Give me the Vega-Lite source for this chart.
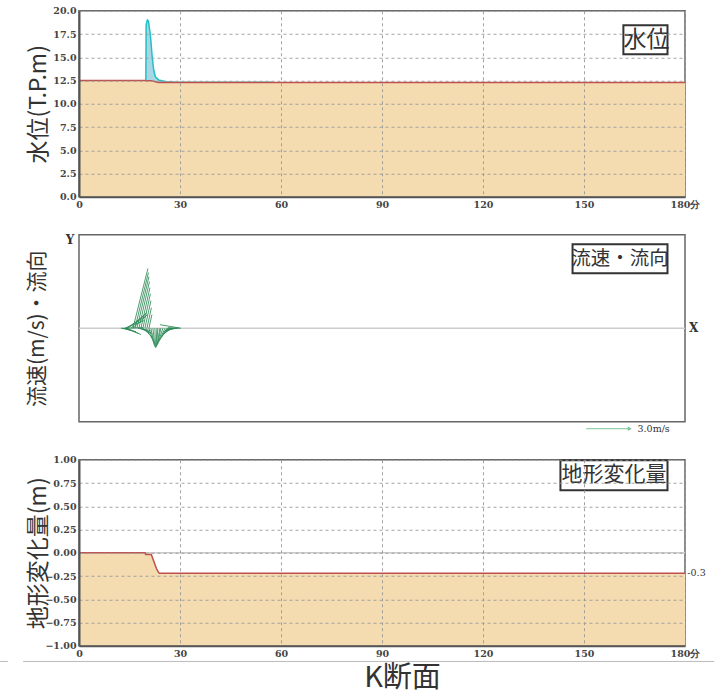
{
  "$schema": "https://vega.github.io/schema/vega-lite/v6.json",
  "background": "white",
  "padding": {"left": -2, "top": 4.75, "right": 4, "bottom": 4},
  "datasets": {
    "terrain": [
      {"t": 0, "chg": 0, "bed": 12.5},
      {"t": 19.6, "chg": 0, "bed": 12.5},
      {"t": 19.8, "chg": -0.02, "bed": 12.48},
      {"t": 21.5, "chg": -0.02, "bed": 12.48},
      {"t": 21.8, "chg": -0.05, "bed": 12.45},
      {"t": 22.4, "chg": -0.11, "bed": 12.39},
      {"t": 23.0, "chg": -0.17, "bed": 12.33},
      {"t": 23.6, "chg": -0.21, "bed": 12.29},
      {"t": 23.9, "chg": -0.22, "bed": 12.28},
      {"t": 180, "chg": -0.22, "bed": 12.28}
    ],
    "water": [
      {"t": 19.85, "wl": 12.48, "bed": 12.48},
      {"t": 19.95, "wl": 18.5, "bed": 12.48},
      {"t": 20.3, "wl": 19.0, "bed": 12.48},
      {"t": 20.6, "wl": 18.9, "bed": 12.48},
      {"t": 21.2, "wl": 17.4, "bed": 12.48},
      {"t": 21.7, "wl": 15.2, "bed": 12.46},
      {"t": 22.2, "wl": 13.6, "bed": 12.41},
      {"t": 22.7, "wl": 12.9, "bed": 12.36},
      {"t": 23.7, "wl": 12.55, "bed": 12.285},
      {"t": 25.8, "wl": 12.37, "bed": 12.28},
      {"t": 28.7, "wl": 12.32, "bed": 12.28},
      {"t": 40, "wl": 12.32, "bed": 12.28},
      {"t": 57.5, "wl": 12.32, "bed": 12.28}
    ],
    "vec": [
      {"t": 14.54, "te": 12.46, "ve": -0.03},
      {"t": 15.73, "te": 12.76, "ve": -0.15},
      {"t": 16.91, "te": 13.35, "ve": -0.22},
      {"t": 17.80, "te": 13.65, "ve": -0.35},
      {"t": 18.40, "te": 14.24, "ve": -0.41},
      {"t": 18.99, "te": 13.35, "ve": 0.04},
      {"t": 19.29, "te": 13.65, "ve": 0.49},
      {"t": 19.58, "te": 13.94, "ve": 0.75},
      {"t": 19.88, "te": 14.54, "ve": 0.94},
      {"t": 20.18, "te": 15.43, "ve": 1.01},
      {"t": 20.32, "te": 16.02, "ve": 0.88},
      {"t": 20.47, "te": 16.02, "ve": 3.85},
      {"t": 20.62, "te": 16.62, "ve": 3.59},
      {"t": 20.77, "te": 17.21, "ve": 3.33},
      {"t": 20.92, "te": 17.80, "ve": 3.01},
      {"t": 21.07, "te": 18.40, "ve": 2.62},
      {"t": 21.21, "te": 18.99, "ve": 2.23},
      {"t": 21.36, "te": 19.58, "ve": 1.78},
      {"t": 21.51, "te": 20.18, "ve": 1.33},
      {"t": 21.66, "te": 20.77, "ve": 0.88},
      {"t": 21.21, "te": 17.50, "ve": -0.15},
      {"t": 21.36, "te": 18.40, "ve": -0.28},
      {"t": 21.81, "te": 18.10, "ve": -0.35},
      {"t": 21.96, "te": 18.99, "ve": -0.61},
      {"t": 22.10, "te": 19.88, "ve": -0.80},
      {"t": 22.25, "te": 20.77, "ve": -0.99},
      {"t": 22.40, "te": 21.36, "ve": -1.12},
      {"t": 22.55, "te": 21.96, "ve": -1.19},
      {"t": 22.70, "te": 22.55, "ve": -1.25},
      {"t": 22.85, "te": 23.14, "ve": -1.25},
      {"t": 22.99, "te": 23.44, "ve": -1.19},
      {"t": 23.14, "te": 24.03, "ve": -1.12},
      {"t": 23.29, "te": 24.33, "ve": -1.06},
      {"t": 23.44, "te": 24.92, "ve": -0.99},
      {"t": 23.74, "te": 25.52, "ve": -0.86},
      {"t": 24.03, "te": 26.11, "ve": -0.74},
      {"t": 24.33, "te": 26.70, "ve": -0.61},
      {"t": 24.63, "te": 27.30, "ve": -0.48},
      {"t": 24.92, "te": 27.59, "ve": -0.35},
      {"t": 25.22, "te": 28.19, "ve": -0.22},
      {"t": 25.52, "te": 28.78, "ve": -0.15},
      {"t": 25.81, "te": 29.08, "ve": -0.09},
      {"t": 26.11, "te": 29.37, "ve": -0.03},
      {"t": 24.03, "te": 30.26, "ve": 0.23},
      {"t": 26.41, "te": 29.97, "ve": 0.04}
    ]
  },
  "vconcat": [
    {
      "width": 606,
      "height": 186,
      "layer": [
        {
          "data": {"name": "terrain"},
          "mark": {"type": "area", "color": "#f5dcb0", "opacity": 1},
          "encoding": {
            "x": {
              "field": "t", "type": "quantitative",
              "scale": {"domain": [0, 180], "nice": false},
              "axis": {"values": [0, 30, 60, 90, 120, 150, 180], "tickCount": 20, "title": null, "labelExpr": "datum.value == 180 ? '180分' : datum.label", "labelFlush": false, "labelOverlap": false, "zindex": 1}
            },
            "y": {"field": "bed", "type": "quantitative", "title": "水位(T.P.m)",
              "scale": {"domain": [0, 20], "nice": false},
              "axis": {"values": [0, 2.5, 5, 7.5, 10, 12.5, 15, 17.5, 20], "tickCount": 20, "format": ".1f", "labelOverlap": false, "zindex": 1, "titleX": -29, "titleBaseline": "bottom"}}
          }
        },
        {
          "data": {"name": "water"},
          "mark": {"type": "area", "color": "#a3d5e2", "opacity": 0.95},
          "encoding": {
            "x": {"field": "t", "type": "quantitative"},
            "y": {"field": "wl", "type": "quantitative", "title": "水位(T.P.m)"},
            "y2": {"field": "bed"}
          }
        },
        {
          "data": {"name": "water"},
          "mark": {"type": "line", "color": "#22c0c8", "strokeWidth": 1.5},
          "encoding": {
            "x": {"field": "t", "type": "quantitative"},
            "y": {"field": "wl", "type": "quantitative", "title": "水位(T.P.m)"}
          }
        },
        {
          "data": {"name": "terrain"},
          "mark": {"type": "line", "color": "#c0504d", "strokeWidth": 1.5},
          "encoding": {
            "x": {"field": "t", "type": "quantitative"},
            "y": {"field": "bed", "type": "quantitative", "title": "水位(T.P.m)"}
          }
        },
        {
          "data": {"values": [{}]},
          "mark": {"type": "rect", "fill": "white", "stroke": "#333333", "strokeWidth": 2},
          "encoding": {
            "x": {"datum": 161.7, "type": "quantitative"},
            "x2": {"datum": 174.8},
            "y": {"datum": 18.44, "type": "quantitative", "title": "水位(T.P.m)"},
            "y2": {"datum": 15.32}
          }
        },
        {
          "data": {"values": [{}]},
          "mark": {"type": "text", "text": "水位", "font": "Noto Sans CJK JP", "fontSize": 23, "color": "#333333", "align": "center", "baseline": "middle"},
          "encoding": {
            "x": {"datum": 168.6, "type": "quantitative"},
            "y": {"datum": 16.85, "type": "quantitative", "title": "水位(T.P.m)"}
          }
        }
      ]
    },
    {
      "width": 606,
      "height": 187,
      "layer": [
        {
          "data": {"values": [{}]},
          "mark": {"type": "rule", "color": "#cccccc", "strokeWidth": 1.5},
          "encoding": {
            "y": {"datum": 0, "type": "quantitative", "title": "流速(m/s)・流向",
              "scale": {"domain": [-6.03, 6.03], "nice": false, "zero": false},
              "axis": {"labels": false, "ticks": false, "grid": false, "domain": false, "titleX": -32, "titleBaseline": "bottom", "titleFontSize": 21}}
          }
        },
        {
          "data": {"name": "vec"},
          "mark": {"type": "rule", "color": "#2e8b57", "strokeWidth": 1, "opacity": 0.85},
          "encoding": {
            "x": {"field": "t", "type": "quantitative", "scale": {"domain": [0, 180], "nice": false}, "axis": null},
            "x2": {"field": "te"},
            "y": {"field": "ve", "type": "quantitative", "title": "流速(m/s)・流向"},
            "y2": {"datum": 0}
          }
        },
        {
          "data": {"values": [{}]},
          "mark": {"type": "rule", "color": "#7cc49a", "strokeWidth": 1},
          "encoding": {
            "x": {"datum": 150.65, "type": "quantitative"},
            "x2": {"datum": 163.5},
            "y": {"datum": -6.48, "type": "quantitative", "title": "流速(m/s)・流向"}
          }
        },
        {
          "data": {"values": [{}]},
          "mark": {"type": "point", "shape": "triangle-right", "filled": true, "color": "#7cc49a", "size": 22, "opacity": 1},
          "encoding": {
            "x": {"datum": 163.6, "type": "quantitative"},
            "y": {"datum": -6.48, "type": "quantitative", "title": "流速(m/s)・流向"}
          }
        },
        {
          "data": {"values": [{}]},
          "mark": {"type": "text", "text": "3.0m/s", "font": "DejaVu Serif", "fontSize": 9.5, "color": "#333333", "align": "left", "baseline": "middle"},
          "encoding": {
            "x": {"datum": 165.9, "type": "quantitative"},
            "y": {"datum": -6.48, "type": "quantitative", "title": "流速(m/s)・流向"}
          }
        },
        {
          "data": {"values": [{}]},
          "mark": {"type": "text", "text": "Y", "font": "DejaVu Serif", "fontSize": 12, "fontWeight": "bold", "color": "#333333", "align": "center", "baseline": "middle"},
          "encoding": {
            "x": {"datum": -2.67, "type": "quantitative"},
            "y": {"datum": 5.66, "type": "quantitative", "title": "流速(m/s)・流向"}
          }
        },
        {
          "data": {"values": [{}]},
          "mark": {"type": "text", "text": "X", "font": "DejaVu Serif", "fontSize": 12, "fontWeight": "bold", "color": "#333333", "align": "center", "baseline": "middle"},
          "encoding": {
            "x": {"datum": 182.6, "type": "quantitative"},
            "y": {"datum": 0, "type": "quantitative", "title": "流速(m/s)・流向"}
          }
        },
        {
          "data": {"values": [{}]},
          "mark": {"type": "rect", "fill": "white", "stroke": "#333333", "strokeWidth": 2},
          "encoding": {
            "x": {"datum": 146.6, "type": "quantitative"},
            "x2": {"datum": 174.8},
            "y": {"datum": 5.42, "type": "quantitative", "title": "流速(m/s)・流向"},
            "y2": {"datum": 3.55}
          }
        },
        {
          "data": {"values": [{}]},
          "mark": {"type": "text", "text": "流速・流向", "font": "Noto Sans CJK JP", "fontSize": 19.5, "color": "#333333", "align": "center", "baseline": "middle"},
          "encoding": {
            "x": {"datum": 160.7, "type": "quantitative"},
            "y": {"datum": 4.48, "type": "quantitative", "title": "流速(m/s)・流向"}
          }
        }
      ]
    },
    {
      "width": 606,
      "height": 186,
      "layer": [
        {
          "data": {"name": "terrain"},
          "mark": {"type": "area", "color": "#f5dcb0", "opacity": 1},
          "encoding": {
            "x": {
              "field": "t", "type": "quantitative",
              "scale": {"domain": [0, 180], "nice": false},
              "axis": {"values": [0, 30, 60, 90, 120, 150, 180], "tickCount": 20, "title": "K断面", "labelExpr": "datum.value == 180 ? '180分' : datum.label", "labelFlush": false, "labelOverlap": false, "zindex": 1,
                "titleFont": "Noto Sans CJK JP", "titleFontSize": 29, "titleFontWeight": "normal", "titleColor": "#333333", "titleX": 323, "titleY": 18, "titleBaseline": "top"}
            },
            "y": {"field": "chg", "type": "quantitative", "title": "地形変化量(m)",
              "scale": {"domain": [-1, 1], "nice": false},
              "axis": {"values": [-1, -0.75, -0.5, -0.25, 0, 0.25, 0.5, 0.75, 1], "tickCount": 20, "format": ".2f", "labelOverlap": false, "zindex": 1, "titleX": -29, "titleBaseline": "bottom"}},
            "y2": {"datum": -1}
          }
        },
        {
          "data": {"values": [{}]},
          "mark": {"type": "rule", "color": "#cccccc", "strokeWidth": 1.5},
          "encoding": {
            "y": {"datum": 0, "type": "quantitative", "title": "地形変化量(m)"}
          }
        },
        {
          "data": {"name": "terrain"},
          "mark": {"type": "line", "color": "#c0504d", "strokeWidth": 1.5},
          "encoding": {
            "x": {"field": "t", "type": "quantitative"},
            "y": {"field": "chg", "type": "quantitative", "title": "地形変化量(m)"}
          }
        },
        {
          "data": {"values": [{}]},
          "mark": {"type": "text", "text": "-0.3", "font": "DejaVu Serif", "fontSize": 9.5, "color": "#333333", "align": "left", "baseline": "middle"},
          "encoding": {
            "x": {"datum": 180.7, "type": "quantitative"},
            "y": {"datum": -0.22, "type": "quantitative", "title": "地形変化量(m)"}
          }
        },
        {
          "data": {"values": [{"a": -16.6, "b": 188.7}, {"a": -23.44, "b": -21.1}]},
          "mark": {"type": "rule", "color": "#bbbbbb", "strokeWidth": 1},
          "encoding": {
            "x": {"field": "a", "type": "quantitative"},
            "x2": {"field": "b"},
            "y": {"datum": -1.169, "type": "quantitative", "title": "地形変化量(m)"}
          }
        },
        {
          "data": {"values": [{}]},
          "mark": {"type": "rect", "fill": "white", "stroke": "#333333", "strokeWidth": 2},
          "encoding": {
            "x": {"datum": 143.0, "type": "quantitative"},
            "x2": {"datum": 174.8},
            "y": {"datum": 0.995, "type": "quantitative", "title": "地形変化量(m)"},
            "y2": {"datum": 0.672}
          }
        },
        {
          "data": {"values": [{}]},
          "mark": {"type": "text", "text": "地形変化量", "font": "Noto Sans CJK JP", "fontSize": 21, "color": "#333333", "align": "center", "baseline": "middle"},
          "encoding": {
            "x": {"datum": 158.9, "type": "quantitative"},
            "y": {"datum": 0.833, "type": "quantitative", "title": "地形変化量(m)"}
          }
        }
      ]
    }
  ],
  "spacing": 38,
  "bounds": "flush",
  "config": {
    "view": {"stroke": "#666666", "strokeWidth": 1.5},
    "axis": {
      "labelFont": "DejaVu Serif", "labelFontSize": 9.5, "labelFontWeight": "bold", "labelColor": "#444444", "labelPadding": 3,
      "ticks": false, "domain": true, "domainColor": "#555555", "domainWidth": 2,
      "grid": true, "gridColor": "#999999", "gridDash": [3, 3], "gridWidth": 1, "gridOpacity": 0.9,
      "zindex": 1, "labelOverlap": false,
      "titleFont": "Noto Sans CJK JP", "titleFontSize": 23, "titleFontWeight": "normal", "titleColor": "#333333", "titlePadding": 4
    }
  }
}
